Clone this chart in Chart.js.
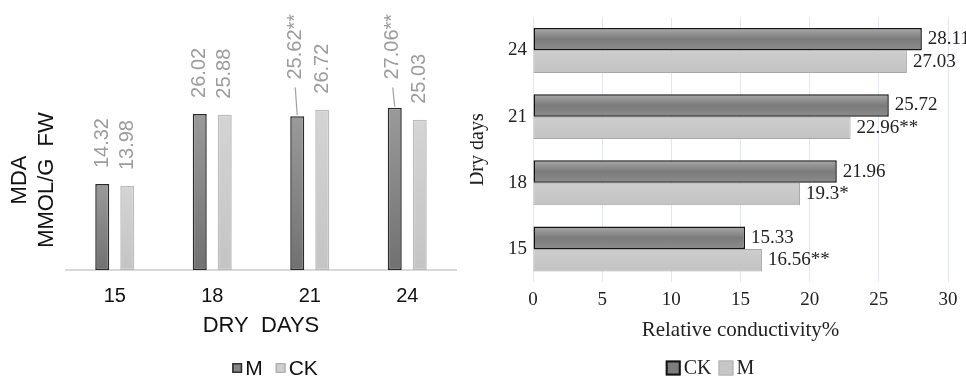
<!DOCTYPE html>
<html>
<head>
<meta charset="utf-8">
<script src="https://cdn.jsdelivr.net/npm/chart.js@4.4.1/dist/chart.umd.min.js"></script>
<style>
  html, body { margin: 0; padding: 0; background: #fff; }
  #wrap { position: relative; width: 966px; height: 378px; overflow: hidden; background: #fff; }
  #mda { position: absolute; left: 0; top: 0; }
  #rc { position: absolute; left: 470px; top: 0; }
</style>
</head>
<body>
<div id="wrap">
  <canvas id="mda" width="470" height="378"></canvas>
  <canvas id="rc" width="496" height="378"></canvas>
</div>
<script>
// Dry days at which samples were taken
const dryDays = ['15', '18', '21', '24'];

// MDA content (mmol/g FW)
const mdaM = [14.32, 26.02, 25.62, 27.06];
const mdaCK = [13.98, 25.88, 26.72, 25.03];
const mdaSigM = ['', '', '**', '**'];
const mdaSigCK = ['', '', '', ''];

// Relative conductivity (%)
const rcCK = [15.33, 21.96, 25.72, 28.11];
const rcM = [16.56, 19.3, 22.96, 27.03];
const rcSigCK = ['', '', '', ''];
const rcSigM = ['**', '*', '**', ''];
const rcTicks = [0, 5, 10, 15, 20, 25, 30];

const SANS = '"Liberation Sans", Arial, sans-serif';
const SERIF = '"Liberation Serif", "Times New Roman", serif';

// Vertical gradient per bar, from the colour stops given in dataset.shade
const barShade = {
  id: 'barShade',
  beforeDatasetsDraw(chart) {
    const horiz = chart.options.indexAxis === 'y';
    chart.data.datasets.forEach((ds, di) => {
      if (!ds.shade) return;
      chart.getDatasetMeta(di).data.forEach(el => {
        const p = el.getProps(['x', 'y', 'base', 'width', 'height'], true);
        let y0, y1;
        if (horiz) { y0 = p.y - p.height / 2; y1 = p.y + p.height / 2; }
        else { y0 = Math.min(p.y, p.base); y1 = Math.max(p.y, p.base); }
        const g = chart.ctx.createLinearGradient(0, y0, 0, y1);
        ds.shade.forEach((c, k) => g.addColorStop(k / (ds.shade.length - 1), c));
        el.options = Object.assign({}, el.options, { backgroundColor: g });
      });
    });
  }
};

// Value labels: rotated above columns, or to the right of horizontal bars
const valueTags = {
  id: 'valueTags',
  afterDatasetsDraw(chart, args, o) {
    const ctx = chart.ctx;
    chart.data.datasets.forEach((ds, di) => {
      chart.getDatasetMeta(di).data.forEach((el, i) => {
        const txt = String(ds.data[i]) + (ds.sig ? ds.sig[i] : '');
        ctx.save();
        ctx.font = o.font;
        ctx.fillStyle = o.color;
        if (o.mode === 'column') {
          const callout = o.callouts && o.callouts[di] && o.callouts[di].includes(i);
          let x = el.x, yb;
          if (callout) {
            // leader line from the column top up to a raised label
            yb = chart.scales.y.getPixelForValue(o.calloutLevel);
            ctx.strokeStyle = o.lineColor;
            ctx.lineWidth = 1.2;
            ctx.beginPath();
            ctx.moveTo(el.x, el.y - 1);
            ctx.lineTo(el.x - 2, yb + 8);
            ctx.stroke();
            x = el.x - 2;
          } else {
            yb = el.y - o.gap;
          }
          ctx.translate(x, yb);
          ctx.rotate(-Math.PI / 2);
          ctx.textAlign = 'left';
          ctx.textBaseline = 'middle';
          ctx.fillText(txt, 0, 0);
        } else {
          ctx.textAlign = 'left';
          ctx.textBaseline = 'middle';
          ctx.fillText(txt, el.x + o.gap, el.y);
        }
        ctx.restore();
      });
    });
  }
};

// Centred key with square swatches
const swatchKey = {
  id: 'swatchKey',
  afterDraw(chart, args, o) {
    const ctx = chart.ctx;
    ctx.save();
    ctx.font = o.font;
    const items = chart.data.datasets.map(ds => ({ ds, w: ctx.measureText(ds.label).width }));
    let total = 0;
    items.forEach((it, k) => { total += o.box + o.gap + it.w + (k ? o.spacing : 0); });
    let x = o.cx - total / 2;
    items.forEach((it, k) => {
      if (k) x += o.spacing;
      const s = it.ds.swatch;
      ctx.fillStyle = s.fill;
      ctx.fillRect(x, o.y - o.box / 2, o.box, o.box);
      ctx.strokeStyle = s.stroke;
      ctx.lineWidth = s.lw;
      ctx.strokeRect(x + s.lw / 2, o.y - o.box / 2 + s.lw / 2, o.box - s.lw, o.box - s.lw);
      x += o.box + o.gap;
      ctx.fillStyle = o.color;
      ctx.textAlign = 'left';
      ctx.textBaseline = 'middle';
      ctx.fillText(it.ds.label, x, o.y + 1);
      x += it.w;
    });
    ctx.restore();
  }
};

// Left: MDA content column chart
new Chart(document.getElementById('mda'), {
  type: 'bar',
  data: {
    labels: dryDays,
    datasets: [
      { label: 'M', data: mdaM, sig: mdaSigM, shade: ['#9a9a9a', '#717171'],
        borderColor: '#2a2a2a', borderWidth: 1.5,
        swatch: { fill: '#858585', stroke: '#2f2f2f', lw: 1.5 } },
      { label: 'CK', data: mdaCK, sig: mdaSigCK, shade: ['#d4d4d4', '#c4c4c4'],
        borderColor: '#bbbbbb', borderWidth: 1.5,
        swatch: { fill: '#cfcfcf', stroke: '#b3b3b3', lw: 1.5 } }
    ]
  },
  options: {
    responsive: false, animation: false, devicePixelRatio: 1,
    layout: { padding: { top: 90, right: 14, left: 0, bottom: 0 } },
    datasets: { bar: { categoryPercentage: 0.513, barPercentage: 0.56, borderSkipped: false } },
    scales: {
      x: {
        grid: { display: false, drawTicks: false },
        border: { display: true, color: '#d9d9d9', width: 2 },
        ticks: { padding: 14, color: '#111', font: { family: SANS, size: 20 } },
        title: { display: true, text: 'DRY  DAYS', color: '#111',
                 font: { family: SANS, size: 22 }, padding: { top: 0, bottom: 39 } },
        afterFit(s) { s.height = 108; }
      },
      y: {
        min: 0, max: 30,
        grid: { display: false, drawTicks: false },
        border: { display: false },
        ticks: { display: false },
        title: { display: true, text: ['MDA', 'MMOL/G  FW'], color: '#111',
                 font: { family: SANS, size: 22, lineHeight: 1.25 }, padding: { top: 6, bottom: 0 } },
        afterFit(s) { s.width = 66; }
      }
    },
    plugins: {
      legend: { display: false },
      tooltip: { enabled: false },
      valueTags: { mode: 'column', font: '20px ' + SANS, color: '#9c9c9c', lineColor: '#a0a0a0',
                   gap: 16, callouts: { 0: [2, 3] }, calloutLevel: 31.75 },
      swatchKey: { cx: 275, y: 368, box: 10, gap: 3, spacing: 13, font: '21px ' + SANS, color: '#111' }
    }
  },
  plugins: [barShade, valueTags, swatchKey]
});

// Right: relative conductivity horizontal bar chart
new Chart(document.getElementById('rc'), {
  type: 'bar',
  data: {
    labels: dryDays,
    datasets: [
      { label: 'CK', data: rcCK, sig: rcSigCK, shade: ['#a9a9a9', '#7b7b7b', '#8c8c8c'],
        borderColor: '#151515', borderWidth: 1.5,
        swatch: { fill: '#7d7d7d', stroke: '#151515', lw: 2 } },
      { label: 'M', data: rcM, sig: rcSigM, shade: ['#cdcdcd', '#c2c2c2'],
        borderColor: '#a8a8a8', borderWidth: 1,
        swatch: { fill: '#c6c6c6', stroke: '#b0b0b0', lw: 1 } }
    ]
  },
  options: {
    indexAxis: 'y',
    responsive: false, animation: false, devicePixelRatio: 1,
    layout: { padding: { top: 12, right: 18, left: 0, bottom: 0 } },
    datasets: { bar: { categoryPercentage: 0.68, barPercentage: 1, borderSkipped: false } },
    scales: {
      x: {
        min: 0, max: 30,
        afterBuildTicks(s) { s.ticks = rcTicks.map(v => ({ value: v })); },
        grid: { color: '#e2e7ee', lineWidth: 1, drawTicks: false },
        border: { display: false },
        ticks: { padding: 7, color: '#222', font: { family: SERIF, size: 19 } },
        title: { display: true, text: 'Relative conductivity%', color: '#222',
                 font: { family: SERIF, size: 21 }, padding: { top: 0, bottom: 35 } },
        afterFit(s) { s.height = 96; }
      },
      y: {
        reverse: true,
        grid: { display: false, drawTicks: false },
        border: { display: false },
        ticks: { padding: 6, color: '#222', font: { family: SERIF, size: 19 } },
        title: { display: true, text: 'Dry days', color: '#222',
                 font: { family: SERIF, size: 20, lineHeight: 1 }, padding: { top: -2, bottom: 0 } },
        afterFit(s) { s.width = 63; }
      }
    },
    plugins: {
      legend: { display: false },
      tooltip: { enabled: false },
      valueTags: { mode: 'bar', font: '19px ' + SERIF, color: '#222', gap: 6 },
      swatchKey: { cx: 240, y: 368, box: 15, gap: 3, spacing: 7, font: '20px ' + SERIF, color: '#222' }
    }
  },
  plugins: [barShade, valueTags, swatchKey]
});
</script>
</body>
</html>
